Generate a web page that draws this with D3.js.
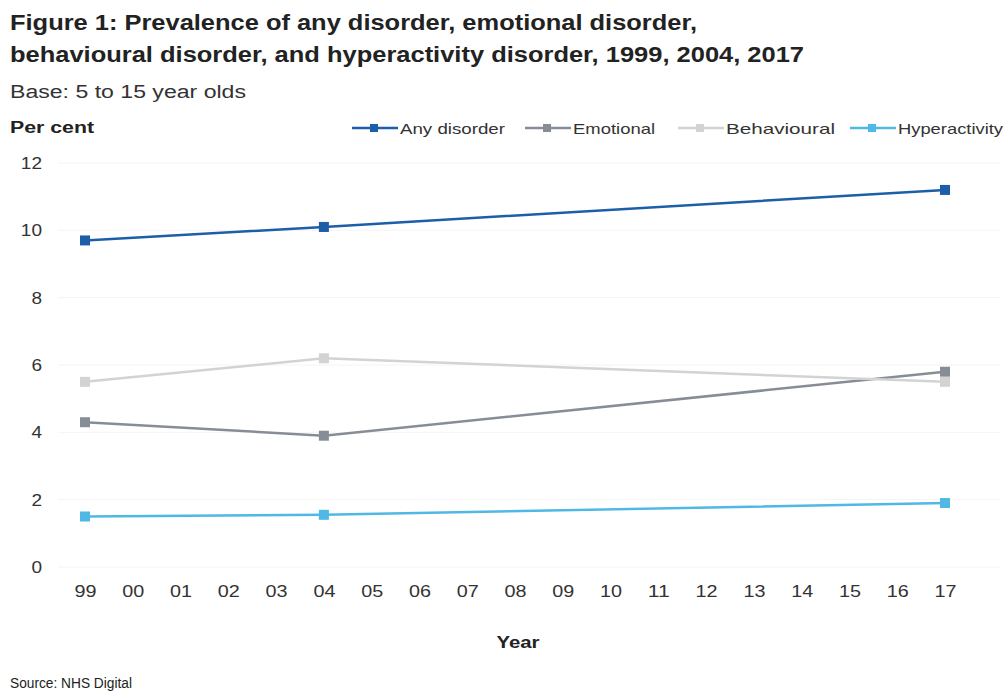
<!DOCTYPE html>
<html>
<head>
<meta charset="utf-8">
<script src="https://cdn.jsdelivr.net/npm/d3@7/dist/d3.min.js"></script>
<style>
  html, body { margin: 0; padding: 0; background: #ffffff; }
  svg { display: block; font-family: "Liberation Sans", Arial, sans-serif; }
</style>
</head>
<body>
<svg id="chart" width="1008" height="700"></svg>
<script>
// Survey years and prevalence (per cent) by disorder type
const years = [1999, 2004, 2017];
const anyDisorder = [9.7, 10.1, 11.2];
const emotional = [4.3, 3.9, 5.8];
const behavioural = [5.5, 6.2, 5.5];
const hyperactivity = [1.5, 1.55, 1.9];

const seriesNames = ["Any disorder", "Emotional", "Behavioural", "Hyperactivity"];
const seriesColors = ["#1d5ea8", "#878d96", "#d3d3d3", "#4fb8e4"];
const seriesValues = [anyDisorder, emotional, behavioural, hyperactivity];

const tickYears = d3.range(1999, 2018);
const yTicks = [0, 2, 4, 6, 8, 10, 12];

const svg = d3.select("#chart");

const x = d3.scaleLinear().domain([1999, 2017]).range([85, 945]);
const y = d3.scaleLinear().domain([0, 12]).range([567, 163]);

// Headings (the typeface runs wide, so widths are fixed)
function label(xp, yp, size, weight, fill, str, width) {
  const t = svg.append("text").attr("x", xp).attr("y", yp)
    .attr("font-size", size).attr("font-weight", weight).attr("fill", fill)
    .text(str);
  if (width) t.attr("textLength", width).attr("lengthAdjust", "spacingAndGlyphs");
  return t;
}
label(10, 30, 22, "bold", "#222", "Figure 1: Prevalence of any disorder, emotional disorder,", 687);
label(10, 62, 22, "bold", "#222", "behavioural disorder, and hyperactivity disorder, 1999, 2004, 2017", 794);
label(10, 98, 18, "normal", "#333", "Base: 5 to 15 year olds", 236);
label(10, 133, 16, "bold", "#222", "Per cent", 84);

// Faint horizontal gridlines
svg.append("g").selectAll("line").data(yTicks).join("line")
  .attr("x1", 58).attr("x2", 1000)
  .attr("y1", d => y(d)).attr("y2", d => y(d))
  .attr("stroke", "#f4f4f4").attr("stroke-width", 1);

// Y axis labels
const yAxis = svg.append("g").attr("transform", "translate(42,0)")
  .call(d3.axisLeft(y).tickValues(yTicks).tickSize(0).tickPadding(0));
yAxis.select(".domain").remove();
yAxis.selectAll("text").attr("font-size", 17).attr("fill", "#333")
  .attr("font-family", "Liberation Sans, Arial, sans-serif")
  .attr("transform", "scale(1.12,1)");

// X axis labels (two-digit years)
const xAxis = svg.append("g").attr("transform", "translate(0,580)")
  .call(d3.axisBottom(x).tickValues(tickYears).tickSize(0).tickPadding(5)
    .tickFormat(d => String(d % 100).padStart(2, "0")));
xAxis.select(".domain").remove();
xAxis.selectAll("text").attr("font-size", 17).attr("fill", "#333")
  .attr("font-family", "Liberation Sans, Arial, sans-serif")
  .attr("textLength", 22).attr("lengthAdjust", "spacingAndGlyphs");

label(518, 648, 17, "bold", "#222", "Year", 43).attr("text-anchor", "middle");
label(10, 688, 14, "normal", "#222", "Source: NHS Digital", 122);

// Lines and square markers
const line = d3.line().x((d, i) => x(years[i])).y(d => y(d));
seriesValues.forEach((vals, si) => {
  svg.append("path").datum(vals)
    .attr("d", line).attr("fill", "none")
    .attr("stroke", seriesColors[si]).attr("stroke-width", 2.5);
  svg.append("g").selectAll("rect").data(vals).join("rect")
    .attr("x", (d, i) => x(years[i]) - 5).attr("y", d => y(d) - 5)
    .attr("width", 10).attr("height", 10)
    .attr("fill", seriesColors[si]);
});

// Legend
const legendX = [352, 525, 678, 850];
const legendW = [105, 82, 109, 105];
const legend = svg.append("g");
seriesNames.forEach((name, i) => {
  const g = legend.append("g").attr("transform", `translate(${legendX[i]},128)`);
  g.append("line").attr("x1", 0).attr("x2", 46).attr("y1", 0).attr("y2", 0)
    .attr("stroke", seriesColors[i]).attr("stroke-width", 2.5);
  g.append("rect").attr("x", 18).attr("y", -4).attr("width", 8).attr("height", 8)
    .attr("fill", seriesColors[i]);
  g.append("text").attr("x", 48).attr("y", 5.5)
    .attr("font-size", 15).attr("fill", "#333")
    .attr("textLength", legendW[i]).attr("lengthAdjust", "spacingAndGlyphs")
    .text(name);
});
</script>
</body>
</html>
